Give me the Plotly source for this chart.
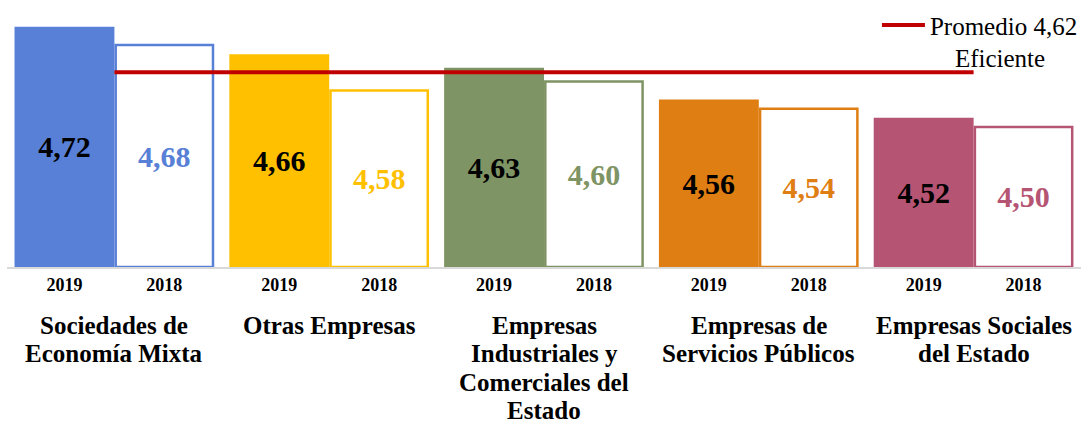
import plotly.graph_objects as go

# ---- data ----
categories = [
    "Sociedades de<br>Economía Mixta",
    "Otras Empresas",
    "Empresas<br>Industriales y<br>Comerciales del<br>Estado",
    "Empresas de<br>Servicios Públicos",
    "Empresas Sociales<br>del Estado",
]
years = ["2019", "2018"]
values_2019 = [4.72, 4.66, 4.63, 4.56, 4.52]
values_2018 = [4.68, 4.58, 4.60, 4.54, 4.50]
average = 4.62
average_label = "Promedio 4,62"
average_label2 = "Eficiente"
colors = ["#5780D6", "#FFC000", "#7F9464", "#DF7E12", "#B55473"]

# ---- styling constants ----
FONT = "'Liberation Serif', 'Times New Roman', serif"
AXIS_MIN, AXIS_MAX = 4.192, 4.779
BAR_W = 0.465
LINE_STEP = 28.5  # px between label lines
FIRST_LINE = 58


def fmt(v):
    return f"{v:.2f}".replace(".", ",")


n = len(categories)
idx = list(range(n))
x19 = [i - BAR_W / 2 for i in idx]
x18 = [i + BAR_W / 2 for i in idx]

fig = go.Figure()

fig.add_trace(go.Bar(
    x=x19, y=[v - AXIS_MIN for v in values_2019], base=AXIS_MIN,
    width=BAR_W,
    marker=dict(color=colors, line=dict(width=0)),
    text=[fmt(v) for v in values_2019],
    textposition="inside", insidetextanchor="middle", textangle=0,
    insidetextfont=dict(family=FONT, size=30, color="black", weight="bold"),
    showlegend=False, hoverinfo="skip",
))

fig.add_trace(go.Bar(
    x=x18, y=[v - AXIS_MIN for v in values_2018], base=AXIS_MIN,
    width=BAR_W - 0.012,
    marker=dict(color="white", line=dict(width=2.5, color=colors)),
    text=[fmt(v) for v in values_2018],
    textposition="inside", insidetextanchor="middle", textangle=0,
    insidetextfont=dict(family=FONT, size=30, color=colors, weight="bold"),
    showlegend=False, hoverinfo="skip",
))

fig.add_trace(go.Scatter(
    x=idx, y=[average] * n, mode="lines",
    line=dict(color="#C00000", width=4),
    name=average_label + "<br>" + "\u00a0" * 4 + average_label2,
    hoverinfo="skip",
))

# category labels, one annotation per line
for i, cat in enumerate(categories):
    for k, line in enumerate(cat.split("<br>")):
        fig.add_annotation(
            x=i, y=0, xref="x", yref="paper",
            text=line, showarrow=False,
            xanchor="center", yanchor="middle",
            yshift=-FIRST_LINE - LINE_STEP * k,
            font=dict(family=FONT, size=25, color="black", weight="bold"),
        )

fig.update_layout(
    width=1089, height=426,
    margin=dict(l=7, r=8, t=0, b=159),
    paper_bgcolor="white", plot_bgcolor="white",
    barmode="overlay",
    showlegend=True,
    legend=dict(
        x=0.81, xanchor="left", y=0.992, yanchor="top",
        bgcolor="rgba(0,0,0,0)", borderwidth=0,
        font=dict(family=FONT, size=25, color="black"),
        itemwidth=43, valign="top",
    ),
    xaxis=dict(
        range=[-0.5, n - 0.5],
        tickvals=x19 + x18,
        ticktext=[years[0]] * n + [years[1]] * n,
        tickfont=dict(family=FONT, size=18, color="black", weight="bold"),
        ticks="", showgrid=False, zeroline=False,
        showline=True, linecolor="#D9D9D9", linewidth=2,
        layer="above traces",
    ),
    yaxis=dict(
        range=[AXIS_MIN, AXIS_MAX],
        visible=False, showgrid=False, zeroline=False,
    ),
)

fig.write_html(
    "out.html",
    config={"displayModeBar": False},
    post_script="document.body.style.margin='0';document.body.style.overflow='hidden';",
)
